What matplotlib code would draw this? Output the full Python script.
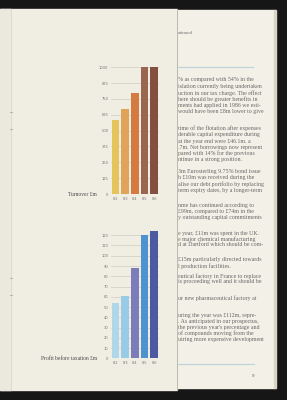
import matplotlib
matplotlib.use("Agg")
import matplotlib.pyplot as plt
from matplotlib.patches import Rectangle

# data
years = ["'82", "'83", "'84", "'85", "'86"]
turnover = [585, 670, 800, 1000, 1000]
profit = [54, 61, 88, 120, 124]
turnover_ticks = [0, 125, 250, 375, 500, 625, 750, 875, 1000]
profit_ticks = list(range(0, 130, 10))
turnover_colors = ["#e6c45c", "#dfa35a", "#d57b42", "#9a6650", "#835040"]
profit_colors = ["#b0d6ea", "#98cbe6", "#7c7cba", "#4d93d0", "#4c5aa2"]

# visible fragments of the facing page (clipped by the left page)
page_lines = [
    (80, "% as compared with 54% in the"),
    (86.5, "islation currently being undertaken"),
    (93, "uction in our tax charge. The effect"),
    (99, "here should be greater benefits in"),
    (105, "ments had applied in 1986 we esti-"),
    (111, "would have been £8m lower to give"),
    (128, "time of the flotation after expenses"),
    (134.5, "derable capital expenditure during"),
    (141, "at the year end were £46.1m. a"),
    (147, ".7m. Net borrowings now represent"),
    (153, "pared with 14% for the previous"),
    (159, "ntinue in a strong position."),
    (172, "3m Eurosterling 9.75% bond issue"),
    (178, "h £10m was received during the"),
    (184, "alise our debt portfolio by replacing"),
    (190.5, "term expiry dates, by a longer-term"),
    (205, "nme has continued according to"),
    (211, "£99m, compared to £74m in the"),
    (217, "y outstanding capital commitments"),
    (233, "e year, £11m was spent in the UK."),
    (239, "e major chemical manufacturing"),
    (245, "d at Dartford which should be com-"),
    (260, "£15m particularly directed towards"),
    (266, "l production facilities."),
    (276, "eutical factory in France to replace"),
    (282, "is proceeding well and it should be"),
    (298, "ur new pharmaceutical factory at"),
    (315, "uring the year was £112m, repre-"),
    (321, ". As anticipated in our prospectus,"),
    (327, "the previous year's percentage and"),
    (333, "of compounds moving from the"),
    (339.5, "uiring more expensive development"),
]

fig = plt.figure(figsize=(2.87, 4.0), dpi=100)
fig.patch.set_facecolor("#161616")

# page background in pixel coordinates
bg = fig.add_axes([0, 0, 1, 1])
bg.set_xlim(0, 287); bg.set_ylim(400, 0); bg.axis("off")
bg.add_patch(Rectangle((150, 10), 125, 378, color="#f3f0e7", zorder=1))
bg.add_patch(Rectangle((274, 10), 1.5, 378, color="#d8d4c8", zorder=1))
bg.text(177.5, 33, "ntinued", ha="left", va="center", fontsize=3.6,
        family="Liberation Serif", style="italic", color="#666666", zorder=2)
bg.plot([177, 253], [67, 67], color="#bcd3da", lw=0.8, zorder=2)
bg.plot([177, 254], [364, 364], color="#bcd3da", lw=0.8, zorder=2)
bg.text(253, 376, "9", ha="center", va="center", fontsize=3.6,
        family="Liberation Serif", color="#555555", zorder=2)
for y, s in page_lines:
    bg.text(178, y, s, ha="left", va="center", fontsize=4.2,
            family="Liberation Serif", color="#666666", zorder=2)

# left page lies on top of the right one
bg.add_patch(Rectangle((0, 9), 177, 381, color="#f0ede3", zorder=3))
bg.add_patch(Rectangle((0, 9), 11, 381, color="#ebe8de", zorder=3))
bg.plot([11, 11], [9, 390], color="#dcd8cc", lw=0.6, zorder=4)
bg.plot([177, 177], [9, 390], color="#bdb9ad", lw=0.7, zorder=4)
for y in (112, 129, 278, 295):
    bg.plot([10, 12], [y, y], color="#999999", lw=0.5, zorder=4)


def bar_panel(rect, values, colors, ticks, top, label):
    ax = fig.add_axes(rect)
    ax.set_facecolor("none")
    x = range(len(years))
    ax.bar(x, values, width=0.8, color=colors, zorder=3, clip_on=False)
    ax.set_xlim(-0.45, len(years) - 0.55)
    ax.set_ylim(0, top)
    ax.set_yticks(ticks)
    ax.set_yticklabels([str(t) for t in ticks])
    ax.set_xticks(list(x))
    ax.set_xticklabels(years)
    ax.tick_params(length=0, labelsize=2.6, labelcolor="#777777", pad=2)
    ax.yaxis.grid(True, color="#cfccc2", lw=0.5, zorder=1)
    for s in ax.spines.values():
        s.set_visible(False)
    ax.text(-1.9, 0, label, ha="right", va="center", fontsize=4.0,
            family="Liberation Serif", color="#4a4a4a")
    return ax


bar_panel([0.3875, 0.515, 0.165, 0.317], turnover, turnover_colors,
          turnover_ticks, 1000, "Turnover £m")
bar_panel([0.3875, 0.104, 0.165, 0.308], profit, profit_colors,
          profit_ticks, 120, "Profit before taxation £m")

plt.savefig("out.png", dpi=100, facecolor=fig.get_facecolor())
